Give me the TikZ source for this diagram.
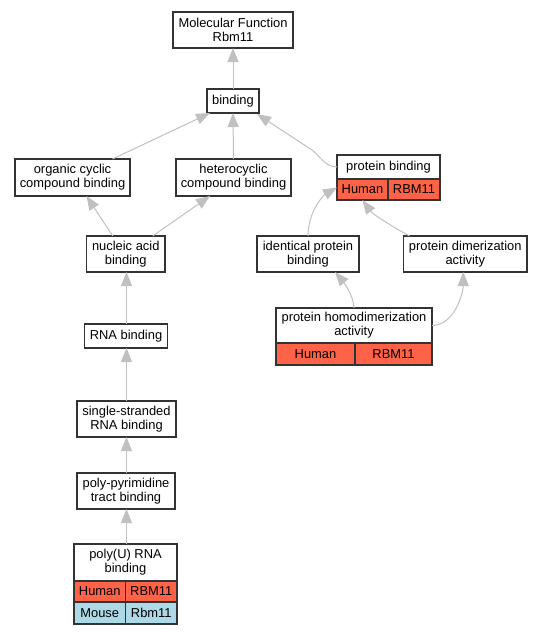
\documentclass[tikz,border=0pt]{standalone}
\usepackage{fontspec}
\setmainfont{Liberation Sans}
\usetikzlibrary{arrows.meta,calc}
\definecolor{hum}{HTML}{FF6347}
\definecolor{mou}{HTML}{ADD8E6}
\definecolor{edg}{HTML}{C0C0C0}
\definecolor{bord}{HTML}{333333}
\begin{document}
\begin{tikzpicture}[x=1pt,y=-1pt,
  box/.style={draw=bord, line width=1.3pt, fill=white, inner sep=0pt, outer sep=0pt,
    align=center, font=\fontsize{12.9}{14}\selectfont},
  hcell/.style={box, fill=hum},
  mcell/.style={box, fill=mou},
  ed/.style={draw=edg, line width=1pt, -{Triangle[length=14pt,width=11pt]}}]
\useasboundingbox (0,0) rectangle (543,635);
% nodes
\node[box, minimum width=120, minimum height=36] (mf) at (233,30) {Molecular Function\\Rbm11};
\node[box, minimum width=52, minimum height=24] (bind) at (233,101) {binding};
\node[box, minimum width=115, minimum height=37] (org) at (72.5,177.5) {organic cyclic\\compound binding};
\node[box, minimum width=115, minimum height=37] (het) at (233.5,177.5) {heterocyclic\\compound binding};
\node[box, minimum width=103, minimum height=24] (pb) at (388.5,167) {protein binding};
\node[hcell, minimum width=51, minimum height=21] (pbh) at (362.5,189.5) {Human};
\node[hcell, minimum width=52, minimum height=21] (pbr) at (414,189.5) {RBM11};
\node[box, minimum width=78.5, minimum height=36] (nuc) at (125.75,254) {nucleic acid\\binding};
\node[box, minimum width=102, minimum height=36] (idp) at (308,254) {identical protein\\binding};
\node[box, minimum width=123.5, minimum height=36] (dim) at (465.25,254) {protein dimerization\\activity};
\node[box, minimum width=156, minimum height=35] (hd) at (354,325.5) {protein homodimerization\\activity};
\node[hcell, minimum width=79, minimum height=22] (hdh) at (315.5,354) {Human};
\node[hcell, minimum width=77, minimum height=22] (hdr) at (393.5,354) {RBM11};
\node[box, minimum width=83, minimum height=24] (rna) at (126,336) {RNA binding};
\node[box, minimum width=99, minimum height=36] (ss) at (126.5,419) {single-stranded\\RNA binding};
\node[box, minimum width=98, minimum height=36] (ppt) at (126,491) {poly-pyrimidine\\tract binding};
\node[box, minimum width=103, minimum height=37] (pu) at (125.5,562.5) {poly(U) RNA\\binding};
\node[hcell, minimum width=51.5, minimum height=21] (puh) at (99.75,591.5) {Human};
\node[hcell, minimum width=51.5, minimum height=21] (pur) at (151.25,591.5) {RBM11};
\node[mcell, minimum width=51.5, minimum height=22] (pum) at (99.75,613) {Mouse};
\node[mcell, minimum width=51.5, minimum height=22] (pmr) at (151.25,613) {Rbm11};
% edges
\coordinate (vx) at (126.5,0);
\draw[ed] (bind.north) -- (mf.south);
\draw[ed] ($(org.north)+(40,0)$) -- ($(bind.south west)+(3,0)$);
\draw[ed] (het.north) -- (bind.south);
\draw[ed] (pb.west) .. controls +(-12,0) and +(8,6) .. ($(pb.west)+(-25,-17)$) -- ($(bind.south east)+(-2,1)$);
\draw[ed] ($(nuc.north)+(-13,0)$) -- ($(org.south)+(14,0)$);
\draw[ed] ($(nuc.north)+(27,0)$) -- ($(het.south)+(-23.5,0)$);
\draw[ed] (vx |- rna.north) -- (vx |- nuc.south);
\draw[ed] (vx |- ss.north) -- (vx |- rna.south);
\draw[ed] (vx |- ppt.north) -- (vx |- ss.south);
\draw[ed] (vx |- pu.north) -- (vx |- ppt.south);
\draw[ed] (idp.north) .. controls +(0,-24) and +(-14,8) .. ($(pbh.west)+(0,-2)$);
\draw[ed] ($(dim.north west)+(6,0)$) .. controls +(-15,-8) and +(10,14) .. (pbh.south);
\draw[ed] (hd.north) .. controls +(0,-13) and +(6,7) .. ($(idp.south)+(27,0)$);
\draw[ed] (hd.east) .. controls +(23,0) and +(0,20) .. ($(dim.south)+(-2,0)$);
\end{tikzpicture}
\end{document}
